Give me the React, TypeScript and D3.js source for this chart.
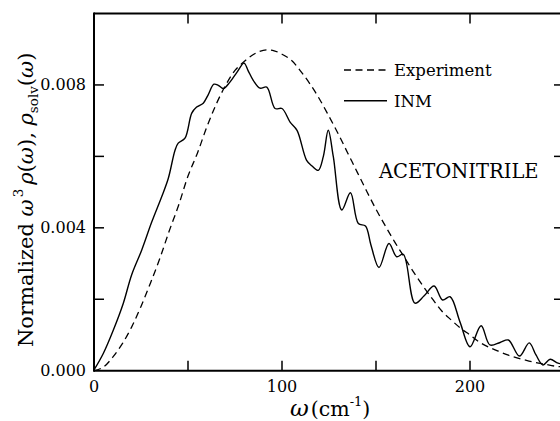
import React from "react";
import * as d3 from "d3";

// ω in cm^-1, values in units of 1e-3
const expOmega = [0, 5, 10, 15, 20, 25, 30, 35, 40, 45, 50, 55, 60, 65, 70, 75, 80, 85, 90, 95, 100, 105, 110, 115, 120, 125, 130, 135, 140, 145, 150, 155, 160, 165, 170, 175, 180, 185, 190, 195, 200, 205, 210, 215, 220, 225, 230, 235, 240, 245, 250];
const expValuesMilli = [0, 0.1, 0.38, 0.75, 1.22, 1.8, 2.45, 3.14, 3.91, 4.63, 5.45, 6.09, 6.82, 7.46, 7.99, 8.41, 8.66, 8.86, 8.97, 8.97, 8.86, 8.69, 8.38, 8.02, 7.6, 7.12, 6.62, 6.09, 5.56, 5.03, 4.52, 4.05, 3.6, 3.18, 2.76, 2.37, 2.01, 1.67, 1.42, 1.19, 1.0, 0.8, 0.66, 0.55, 0.44, 0.36, 0.29, 0.23, 0.18, 0.13, 0.1];

const inmOmega = [0, 5.0, 10.3, 15.6, 20.0, 25.4, 30.7, 36.0, 39.5, 43.1, 44.8, 48.4, 52.0, 54.6, 58.1, 60.6, 63.8, 66.1, 68.8, 72.3, 76.1, 79.8, 81.9, 84.7, 88.3, 91.9, 96.3, 100.0, 104.3, 108.0, 113.1, 116.0, 119.3, 122.0, 124.6, 127.3, 131.8, 136.4, 140.6, 144.4, 147.3, 151.6, 156.9, 161.0, 164.5, 170.7, 175.5, 180.9, 185.4, 189.4, 194.7, 200.0, 205.9, 210.6, 216.0, 220.4, 226.3, 231.5, 235.1, 238.8, 242.6, 246.8, 250];
const inmValuesMilli = [0.02, 0.49, 1.14, 1.89, 2.68, 3.38, 4.16, 4.87, 5.38, 6.17, 6.37, 6.51, 7.21, 7.38, 7.49, 7.71, 8.02, 7.99, 7.9, 8.08, 8.36, 8.61, 8.41, 8.13, 7.91, 7.94, 7.34, 7.34, 6.96, 6.73, 5.89, 5.73, 5.61, 6.0, 6.73, 5.99, 4.5, 4.98, 4.12, 4.05, 3.52, 2.89, 3.56, 3.19, 3.26, 1.89, 2.09, 2.37, 1.98, 2.07, 1.36, 0.67, 1.26, 0.72, 0.79, 0.86, 0.41, 0.78, 0.44, 0.16, 0.32, 0.21, 0.19];

const xMajorTicks = [0, 50, 100, 150, 200, 250];
const xTickLabels = [0, 100, 200];
const yMajorTicks = [0, 0.002, 0.004, 0.006, 0.008, 0.01];
const yTickLabels = ["0.000", "0.004", "0.008"];
const yTickLabelValues = [0, 0.004, 0.008];
const legendLabels = ["Experiment", "INM"];

const FONT = "\"DejaVu Serif\", \"Liberation Serif\", \"Times New Roman\", Times, serif";
const tStyle = { fontFamily: FONT };

export default function App() {
  const W = 560, H = 421;
  const x = d3.scaleLinear().domain([0, 250]).range([94, 564]);
  const y = d3.scaleLinear().domain([0, 0.01]).range([370.7, 13.5]);

  const exp = expOmega.map((w, i) => [w, expValuesMilli[i] / 1000] as [number, number]);
  const inm = inmOmega.map((w, i) => [w, inmValuesMilli[i] / 1000] as [number, number]);

  const line = d3.line<[number, number]>()
    .x(d => x(d[0]))
    .y(d => y(d[1]))
    .curve(d3.curveCatmullRom.alpha(0.5));

  const x0 = x(0), x1 = x(250), y0 = y(0), y1 = y(0.01);
  const tl = 10;

  return (
    <svg width={W} height={H} style={{ position: "absolute", left: 0, top: 0, background: "#fff", fontFamily: FONT }}>
      <defs>
        <clipPath id="plot">
          <rect x={x0} y={y1} width={x1 - x0} height={y0 - y1} />
        </clipPath>
      </defs>
      <rect x={0} y={0} width={W} height={H} fill="#fff" />
      <g clipPath="url(#plot)" fill="none" stroke="#000">
        <path d={line(exp) || ""} strokeWidth={1.3} strokeDasharray="7,4.5" />
        <path d={line(inm) || ""} strokeWidth={1.4} />
      </g>
      <g stroke="#000" strokeWidth={2} fill="none">
        <line x1={x0} y1={y0} x2={x1} y2={y0} />
        <line x1={x0} y1={y1} x2={x1} y2={y1} />
        <line x1={x0} y1={y0 + 1} x2={x0} y2={y1 - 1} />
        <line x1={x1} y1={y0 + 1} x2={x1} y2={y1 - 1} />
      </g>
      <g stroke="#000" strokeWidth={1.5}>
        {xMajorTicks.slice(1, -1).map(t => (
          <g key={"xt" + t}>
            <line x1={x(t)} x2={x(t)} y1={y0} y2={y0 - tl} />
            <line x1={x(t)} x2={x(t)} y1={y1} y2={y1 + tl} />
          </g>
        ))}
        {yMajorTicks.slice(1, -1).map(t => (
          <g key={"yt" + t}>
            <line x1={x0} x2={x0 + tl} y1={y(t)} y2={y(t)} />
            <line x1={x1} x2={x1 - tl} y1={y(t)} y2={y(t)} />
          </g>
        ))}
      </g>
      <g fontSize={16} fill="#000">
        {xTickLabels.map(t => (
          <text key={"xl" + t} style={tStyle} x={x(t)} y={391.5} textAnchor="middle">{t}</text>
        ))}
        {yTickLabelValues.map((t, i) => (
          <text key={"yl" + t} style={tStyle} x={86} y={y(t) + 5.5} textAnchor="end">{yTickLabels[i]}</text>
        ))}
      </g>
      <text style={tStyle} x={290} y={416} fontSize={20.5} fill="#000">
        <tspan fontStyle="italic" fontSize={23}>ω</tspan>
        <tspan dx={2}>(cm</tspan>
        <tspan fontSize={13} dy={-10}>-1</tspan>
        <tspan dy={10}>)</tspan>
      </text>
      <text style={tStyle} transform="translate(33,347) rotate(-90)" fontSize={21} fill="#000">
        <tspan>Normalized </tspan>
        <tspan fontStyle="italic">ω</tspan>
        <tspan fontSize={13.5} dy={-10} dx={2}>3</tspan>
        <tspan dy={10} dx={4} fontStyle="italic">ρ</tspan>
        <tspan>(</tspan>
        <tspan fontStyle="italic">ω</tspan>
        <tspan>), </tspan>
        <tspan fontStyle="italic">ρ</tspan>
        <tspan fontSize={13.5} dy={5}>solv</tspan>
        <tspan dy={-5}>(</tspan>
        <tspan fontStyle="italic">ω</tspan>
        <tspan>)</tspan>
      </text>
      <g stroke="#000" fill="none">
        <line x1={344} x2={386} y1={70} y2={70} strokeWidth={1.3} strokeDasharray="7,4.5" />
        <line x1={344} x2={387} y1={100.7} y2={100.7} strokeWidth={1.4} />
      </g>
      <g fontSize={16.5} fill="#000">
        <text style={tStyle} x={394} y={76}>{legendLabels[0]}</text>
        <text style={tStyle} x={394} y={107}>{legendLabels[1]}</text>
      </g>
      <text style={tStyle} x={379} y={178} fontSize={19.5} fill="#000">ACETONITRILE</text>
    </svg>
  );
}
